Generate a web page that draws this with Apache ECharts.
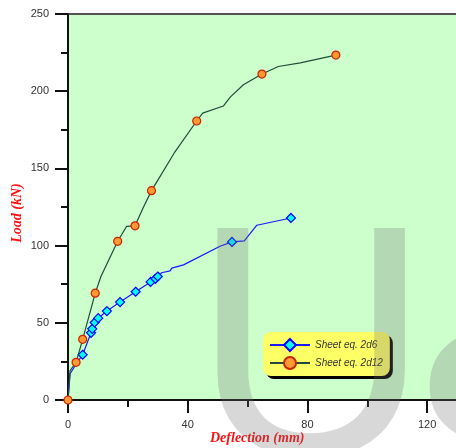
<!DOCTYPE html>
<html>
<head>
<meta charset="utf-8">
<style>
  html, body { margin: 0; padding: 0; background: #ffffff; }
  #chart { width: 456px; height: 448px; }
</style>
<script src="https://cdn.jsdelivr.net/npm/echarts@6/dist/echarts.min.js"></script>
</head>
<body>
<div id="chart"></div>
<script>
// Sheet eq. 2d12 : load-deflection curve (marked = measured point shown with a symbol)
const d12Defl   = [0, 0.7, 2.7, 4.9, 9.1, 11, 16.6, 19.6, 22.4, 25, 27.9, 35.5, 43.0, 45, 51.9, 54.2, 58.6, 64.8, 70.3, 77.6, 89.5];
const d12Load   = [0, 19, 24.4, 39.3, 69.2, 80, 102.8, 112.5, 112.8, 124, 135.6, 160, 180.7, 185.8, 190.4, 196.2, 204.2, 211.1, 216, 218.4, 223.4];
const d12Marked = [1, 0, 1, 1, 1, 0, 1, 0, 1, 0, 1, 0, 1, 0, 0, 0, 0, 1, 0, 0, 1];

// Sheet eq. 2d6
const d6Defl   = [0, 0.7, 2.8, 4.9, 7.7, 8.1, 8.9, 10.1, 13.0, 17.4, 22.6, 27.6, 29.2, 30.0, 31.3, 34.1, 34.7, 38.6, 50.8, 54.8, 58.9, 63.1, 74.5];
const d6Load   = [0, 17, 23.5, 29.3, 43.5, 46.1, 50.2, 53.0, 57.6, 63.4, 70.1, 76.5, 78.5, 80.0, 82.4, 83.6, 85.4, 87.5, 99.6, 102.4, 103.1, 113.2, 117.9];
const d6Marked = [0, 0, 0, 1, 1, 1, 1, 1, 1, 1, 1, 1, 1, 1, 0, 0, 0, 0, 0, 1, 0, 0, 1];

const seriesNames = ['Sheet eq. 2d6', 'Sheet eq. 2d12'];
const xTitle = 'Deflection (mm)';
const yTitle = 'Load (kN)';

function buildPoints(xs, ys, marks) {
  return xs.map((x, i) => marks[i] ? [x, ys[i]] : { value: [x, ys[i]], symbol: 'none' });
}

const chart = echarts.init(document.getElementById('chart'), null, { renderer: 'canvas' });

const sansFont = '"Liberation Sans", Arial, sans-serif';
const serifFont = '"Liberation Serif", "Times New Roman", serif';

chart.setOption({
  animation: false,
  backgroundColor: '#ffffff',
  grid: {
    left: 68, top: 14, height: 386, width: 419,
    outerBoundsMode: 'none',
    containLabel: false,
    show: true,
    backgroundColor: '#CCFFCC',
    borderColor: '#555555',
    borderWidth: 2
  },
  xAxis: {
    type: 'value',
    min: 0, max: 140, interval: 40,
    axisLine: { show: true, onZero: false, lineStyle: { color: '#111', width: 2 } },
    axisTick: { show: true, length: 13, lineStyle: { color: '#111', width: 2 } },
    minorTick: { show: true, splitNumber: 2, length: 7, lineStyle: { color: '#111', width: 2 } },
    splitLine: { show: false },
    axisLabel: { margin: 19, fontSize: 11, color: '#333', fontFamily: sansFont, showMaxLabel: false }
  },
  yAxis: {
    type: 'value',
    min: 0, max: 250, interval: 50,
    axisLine: { show: true, lineStyle: { color: '#111', width: 2 } },
    axisTick: { show: true, length: 13, lineStyle: { color: '#111', width: 2 } },
    minorTick: { show: true, splitNumber: 2, length: 7, lineStyle: { color: '#111', width: 2 } },
    splitLine: { show: false },
    axisLabel: { margin: 19, fontSize: 11, color: '#333', fontFamily: sansFont }
  },
  legend: {
    orient: 'vertical',
    left: 263, top: 332,
    data: seriesNames,
    backgroundColor: '#FFFF66',
    borderRadius: 8,
    padding: [6, 7, 6, 6],
    itemGap: 4,
    itemWidth: 40,
    itemHeight: 15,
    shadowColor: '#000',
    shadowOffsetX: 3,
    shadowOffsetY: 3,
    shadowBlur: 0,
    textStyle: { fontStyle: 'italic', fontSize: 10, color: '#333', fontFamily: sansFont }
  },
  series: [
    {
      name: seriesNames[0],
      type: 'line',
      data: buildPoints(d6Defl, d6Load, d6Marked),
      symbol: 'diamond',
      symbolSize: 9,
      lineStyle: { color: '#1A1AFF', width: 1.2 },
      itemStyle: { color: '#00FFFF', borderColor: '#0000FF', borderWidth: 1.2 },
      z: 3
    },
    {
      name: seriesNames[1],
      type: 'line',
      data: buildPoints(d12Defl, d12Load, d12Marked),
      symbol: 'circle',
      symbolSize: 8,
      lineStyle: { color: '#1E4D3C', width: 1.2 },
      itemStyle: { color: '#FF9933', borderColor: '#CC2200', borderWidth: 1.2 },
      z: 4
    }
  ],
  graphic: [
    {
      type: 'text', left: 210, top: 431, silent: true,
      style: { text: xTitle, fill: '#FF1010', font: 'italic bold 14px ' + serifFont }
    },
    {
      type: 'text', x: 17, y: 213, rotation: Math.PI / 2, silent: true,
      style: { text: yTitle, fill: '#FF1010', font: 'italic bold 14px ' + serifFont, textAlign: 'center', textVerticalAlign: 'middle' }
    },
    {
      type: 'text', x: 192, y: 199, silent: true, z: 100,
      style: { text: 'U', fill: 'rgba(110,110,110,0.27)', font: '330px ' + sansFont, textVerticalAlign: 'top' }
    },
    {
      type: 'text', x: 404, y: 300, silent: true, z: 100,
      style: { text: 'S', fill: 'rgba(110,110,110,0.27)', font: '330px ' + sansFont, textVerticalAlign: 'top' }
    }
  ]
});
</script>
</body>
</html>
